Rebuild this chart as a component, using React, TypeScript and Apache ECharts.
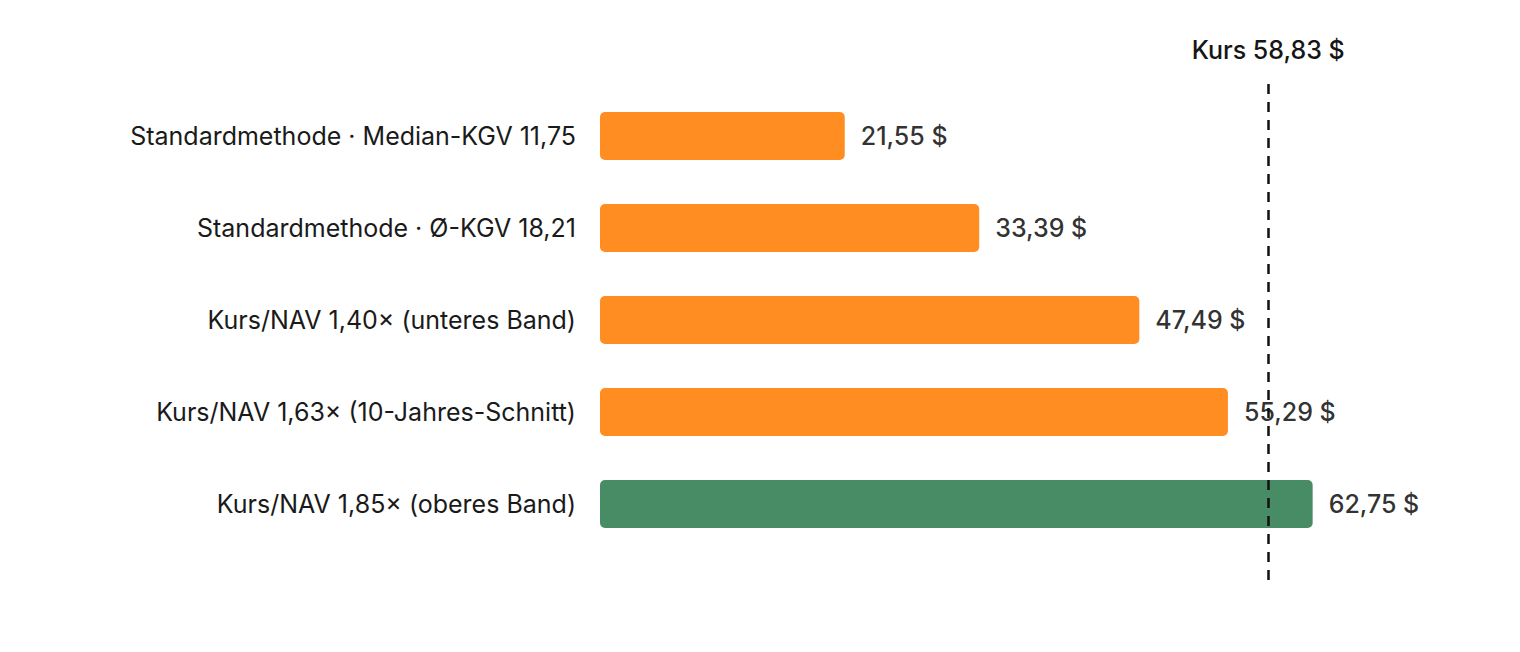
import { useEffect, useRef } from 'react'
import * as echarts from 'echarts'

const CATEGORIES = [
  'Standardmethode · Median-KGV 11,75',
  'Standardmethode · Ø-KGV 18,21',
  'Kurs/NAV 1,40× (unteres Band)',
  'Kurs/NAV 1,63× (10-Jahres-Schnitt)',
  'Kurs/NAV 1,85× (oberes Band)',
]
const VALUES = [21.55, 33.39, 47.49, 55.29, 62.75]
const PRICE = 58.83

const BAR_COLORS = ['#ff8109', '#ff8109', '#ff8109', '#ff8109', '#347f55']
const FONT = 'Inter, "Liberation Sans", Arial, sans-serif'
const X_MAX = 70

const fmt = (v: number) => v.toFixed(2).replace('.', ',') + ' $'

export default function App() {
  const ref = useRef<HTMLDivElement>(null)

  useEffect(() => {
    document.body.style.margin = '0'
    if (!ref.current) return
    const chart = echarts.init(ref.current, undefined, { renderer: 'svg' })

    chart.setOption({
      animation: false,
      backgroundColor: '#ffffff',
      textStyle: { fontFamily: FONT },
      grid: [
        { left: 600, width: 795, top: 90, height: 460 },
        { left: 600, width: 795, top: 84, height: 496 },
      ],
      xAxis: [
        { type: 'value', gridIndex: 0, min: 0, max: X_MAX, show: false },
        { type: 'value', gridIndex: 1, min: 0, max: X_MAX, show: false },
      ],
      yAxis: [
        {
          type: 'category',
          gridIndex: 0,
          inverse: true,
          data: CATEGORIES,
          axisLine: { show: false },
          axisTick: { show: false },
          axisLabel: { margin: 24, fontSize: 25, color: '#1a1a1a', fontFamily: FONT },
        },
        { type: 'value', gridIndex: 1, min: 0, max: 1, show: false },
      ],
      series: [
        {
          type: 'bar',
          xAxisIndex: 0,
          yAxisIndex: 0,
          z: 3,
          barWidth: 48,
          data: VALUES.map((v, i) => ({
            value: v,
            itemStyle: { color: BAR_COLORS[i], opacity: 0.9, borderRadius: 5 },
          })),
          label: {
            show: true,
            position: 'right',
            distance: 16,
            fontSize: 25,
            fontWeight: 500,
            color: '#161616',
            fontFamily: FONT,
            formatter: (p: any) => fmt(p.value),
          },
        },
        {
          type: 'line',
          xAxisIndex: 1,
          yAxisIndex: 1,
          z: 1,
          data: [],
          markLine: {
            silent: true,
            symbol: ['none', 'none'],
            lineStyle: { color: '#111111', width: 2.5, type: [10, 8] },
            label: {
              show: true,
              position: 'end',
              distance: 22,
              fontSize: 25,
              fontWeight: 500,
              color: '#161616',
              fontFamily: FONT,
              formatter: () => 'Kurs ' + fmt(PRICE),
            },
            data: [{ xAxis: PRICE }],
          },
        },
      ],
    })

    return () => chart.dispose()
  }, [])

  return <div ref={ref} style={{ width: 1520, height: 652 }} />
}
